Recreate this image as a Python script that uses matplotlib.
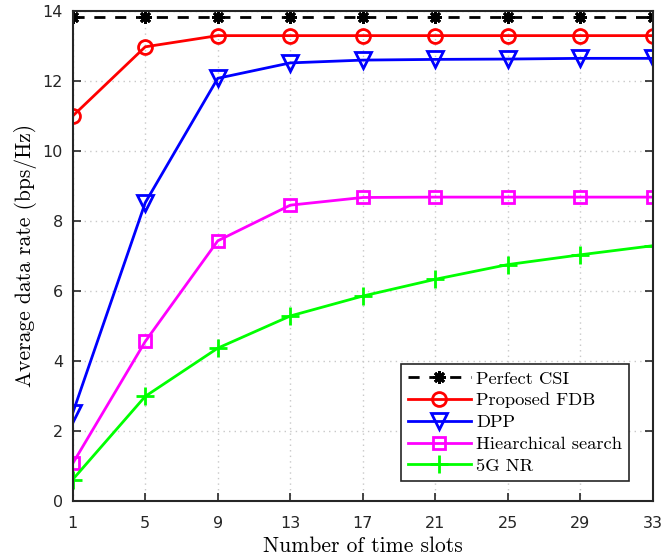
import matplotlib
matplotlib.use('Agg')
import matplotlib.pyplot as plt

# time slots on x axis
slots = [1, 5, 9, 13, 17, 21, 25, 29, 33]

perfect_csi = [13.82] * 9
proposed_fdb = [11.0, 12.98, 13.3, 13.3, 13.3, 13.3, 13.3, 13.3, 13.3]
dpp = [2.5, 8.52, 12.08, 12.52, 12.6, 12.62, 12.63, 12.65, 12.65]
hier_search = [1.06, 4.55, 7.43, 8.45, 8.67, 8.68, 8.68, 8.68, 8.68]
nr_5g = [0.6, 2.98, 4.36, 5.28, 5.85, 6.33, 6.75, 7.03, 7.29]

xticks = [1, 5, 9, 13, 17, 21, 25, 29, 33]
yticks = [0, 2, 4, 6, 8, 10, 12, 14]

serif = 'cmr10'

fig = plt.figure(figsize=(6.67, 5.58), dpi=100)
ax = fig.add_axes([0.109, 0.103, 0.870, 0.877])

ax.plot(slots, perfect_csi, '--', color='black', marker=(8, 2, 0), markersize=9,
        markeredgewidth=2, linewidth=2, dashes=(4, 3.5), label='Perfect CSI')
ax.plot(slots, proposed_fdb, '-', color='red', marker='o', markersize=10,
        markerfacecolor='none', markeredgewidth=2, linewidth=2, label='Proposed FDB')
ax.plot(slots, dpp, '-', color='blue', marker='v', markersize=11,
        markerfacecolor='none', markeredgewidth=2, linewidth=2, label='DPP')
ax.plot(slots, hier_search, '-', color='magenta', marker='s', markersize=9,
        markerfacecolor='none', markeredgewidth=2, linewidth=2, label='Hiearchical search')
ax.plot(slots, nr_5g, '-', color='#00ff00', marker='+', markersize=13,
        markeredgewidth=2, linewidth=2, label='5G NR')

ax.set_xlim(1, 33)
ax.set_ylim(0, 14)
ax.set_xticks(xticks)
ax.set_yticks(yticks)
ax.tick_params(direction='in', labelsize=11.5, length=6, width=1.2,
               top=True, right=True, colors='#262626')
ax.tick_params(axis='x', pad=11)
ax.tick_params(axis='y', pad=7)
ax.grid(True, linestyle=(0, (1, 3)), color='#c8c8c8', linewidth=1)
for s in ax.spines.values():
    s.set_linewidth(1.5)
    s.set_color('#262626')

ax.set_xlabel('Number of time slots', fontsize=15.5, family=serif, labelpad=4)
ax.set_ylabel('Average data rate (bps/Hz)', fontsize=15.5, family=serif, labelpad=4)

leg = ax.legend(loc='lower right', bbox_to_anchor=(0.959, 0.040),
                borderaxespad=0,
                prop={'family': serif, 'size': 13.3}, handlelength=3.4,
                fancybox=False, edgecolor='#262626', framealpha=1,
                borderpad=0.38, labelspacing=0.32, handletextpad=0.3)
leg.get_frame().set_linewidth(1.2)

fig.savefig('out.png', dpi=100)
